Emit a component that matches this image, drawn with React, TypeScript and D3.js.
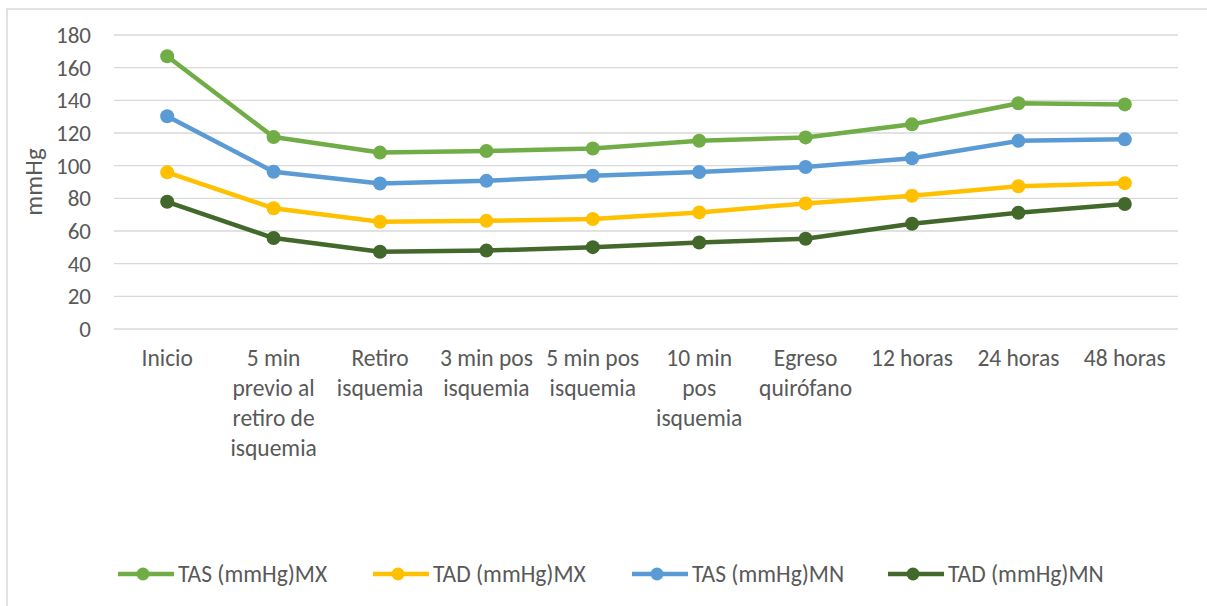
import React, { useEffect, useRef } from "react";
import * as d3 from "d3";

// Time points of the perioperative record (line breaks as they wrap under the axis)
const categories: string[] = [
  "Inicio",
  "5 min\nprevio al\nretiro de\nisquemia",
  "Retiro\nisquemia",
  "3 min pos\nisquemia",
  "5 min pos\nisquemia",
  "10 min\npos\nisquemia",
  "Egreso\nquirófano",
  "12 horas",
  "24 horas",
  "48 horas",
];

const tasMX: number[] = [167, 117.5, 108, 109, 110.5, 115.3, 117.3, 125.3, 138.2, 137.5];
const tadMX: number[] = [95.9, 73.9, 65.7, 66.2, 67.3, 71.4, 76.9, 81.6, 87.4, 89.3];
const tasMN: number[] = [130.3, 96.3, 89.1, 90.7, 93.8, 96.1, 99.2, 104.5, 115.2, 116.1];
const tadMN: number[] = [77.9, 55.7, 47.3, 48, 50.1, 53, 55.3, 64.4, 71.2, 76.5];

const seriesNames: string[] = ["TAS (mmHg)MX", "TAD (mmHg)MX", "TAS (mmHg)MN", "TAD (mmHg)MN"];
const seriesColors: string[] = ["#70AD47", "#FFC000", "#5B9BD5", "#43682B"];
const yTicks: number[] = [0, 20, 40, 60, 80, 100, 120, 140, 160, 180];
const yTitle = "mmHg";

const W = 1207;
const H = 606;
const FONT = "Carlito, Calibri, Lato, 'Open Sans', sans-serif";
const TEXT = "#595959";

export default function App() {
  const ref = useRef<SVGSVGElement | null>(null);

  useEffect(() => {
    const svg = d3.select(ref.current);
    svg.selectAll("*").remove();

    const series = [tasMX, tadMX, tasMN, tadMN];

    // chart frame
    svg
      .append("rect")
      .attr("x", 7)
      .attr("y", 9)
      .attr("width", W + 10)
      .attr("height", H + 10)
      .attr("fill", "#fff")
      .attr("stroke", "#d9d9d9")
      .attr("stroke-width", 1.5);

    const x = d3.scaleBand<string>().domain(categories).range([114, 1178]);
    const y = d3.scaleLinear().domain([0, 180]).range([329, 35]);
    const cx = (c: string) => (x(c) as number) + x.bandwidth() / 2;

    // horizontal gridlines
    svg
      .append("g")
      .selectAll("line")
      .data(yTicks)
      .join("line")
      .attr("x1", 114)
      .attr("x2", 1178)
      .attr("y1", (d) => y(d))
      .attr("y2", (d) => y(d))
      .attr("stroke", "#d9d9d9")
      .attr("stroke-width", 1.3);

    // y tick labels
    svg
      .append("g")
      .selectAll("text")
      .data(yTicks)
      .join("text")
      .attr("x", 91)
      .attr("y", (d) => y(d))
      .attr("dy", "0.35em")
      .attr("text-anchor", "end")
      .attr("font-family", FONT)
      .attr("font-size", 23)
      .attr("fill", TEXT)
      .text((d) => String(d));

    // y axis title
    svg
      .append("text")
      .attr("transform", `translate(42,${(y(0) + y(180)) / 2}) rotate(-90)`)
      .attr("text-anchor", "middle")
      .attr("font-family", FONT)
      .attr("font-size", 25)
      .attr("fill", TEXT)
      .text(yTitle);

    // category labels
    const catG = svg.append("g");
    categories.forEach((c) => {
      const t = catG
        .append("text")
        .attr("x", cx(c))
        .attr("y", 366)
        .attr("text-anchor", "middle")
        .attr("font-family", FONT)
        .attr("font-size", 23.5)
        .attr("fill", TEXT);
      c.split("\n").forEach((line, i) => {
        t.append("tspan").attr("x", cx(c)).attr("dy", i === 0 ? 0 : 30).text(line);
      });
    });

    // series lines and markers
    const line = d3
      .line<number>()
      .x((_, i) => cx(categories[i]))
      .y((d) => y(d));

    series.forEach((vals, si) => {
      const g = svg.append("g");
      g.append("path")
        .attr("d", line(vals) as string)
        .attr("fill", "none")
        .attr("stroke", seriesColors[si])
        .attr("stroke-width", 4.5)
        .attr("stroke-linejoin", "round")
        .attr("stroke-linecap", "round");
      g.selectAll("circle")
        .data(vals)
        .join("circle")
        .attr("cx", (_, i) => cx(categories[i]))
        .attr("cy", (d) => y(d))
        .attr("r", 7)
        .attr("fill", seriesColors[si]);
    });

    // legend
    const legendStarts = [118, 373, 632, 888];
    const ly = 574;
    seriesNames.forEach((name, si) => {
      const lx = legendStarts[si];
      const g = svg.append("g");
      g.append("line")
        .attr("x1", lx)
        .attr("x2", lx + 56)
        .attr("y1", ly)
        .attr("y2", ly)
        .attr("stroke", seriesColors[si])
        .attr("stroke-width", 4.5);
      g.append("circle").attr("cx", lx + 25).attr("cy", ly).attr("r", 6.5).attr("fill", seriesColors[si]);
      g.append("text")
        .attr("x", lx + 60)
        .attr("y", ly)
        .attr("dy", "0.35em")
        .attr("font-family", FONT)
        .attr("font-size", 23.5)
        .attr("fill", TEXT)
        .text(name);
    });
  }, []);

  return (
    <svg
      ref={ref}
      width={W}
      height={H}
      style={{ position: "absolute", left: 0, top: 0, background: "#fff" }}
    />
  );
}
